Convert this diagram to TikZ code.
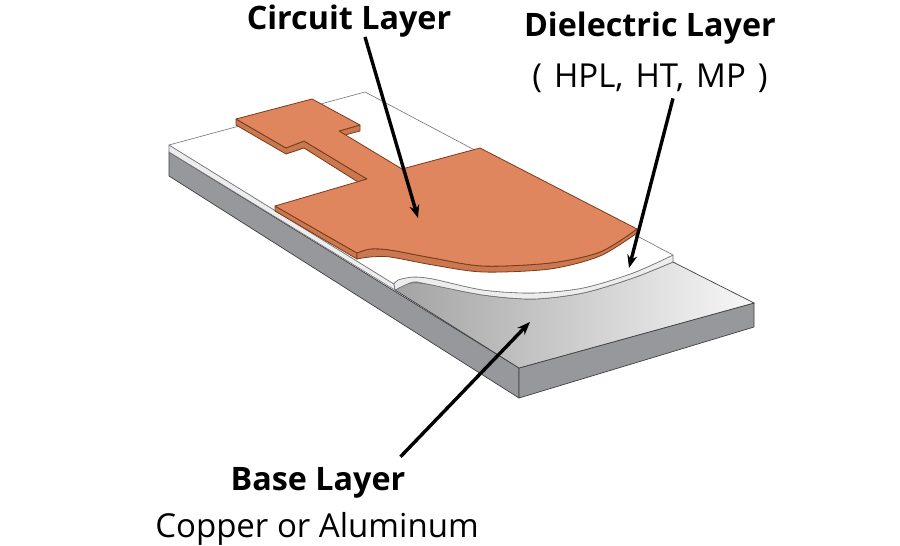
\documentclass[tikz,border=0pt]{standalone}
\usepackage{fontspec}
\usetikzlibrary{arrows.meta}
\setmainfont{Open Sans}
\definecolor{copper}{HTML}{E0865E}
\definecolor{copperside}{HTML}{C9784F}
\definecolor{copperline}{HTML}{7A3A1C}
\definecolor{sidegray}{HTML}{97989C}
\definecolor{bandgray}{HTML}{EDEDEF}
\begin{document}
\begin{tikzpicture}[
    x=1pt, y=-1pt,
    face/.style={draw=black!75, line width=0.7pt, line join=round},
    band/.style={draw=black!55, line width=0.6pt, line join=round},
    cu/.style={draw=copperline, line width=0.8pt, line join=round},
    pointer/.style={-{Stealth[length=13pt, width=10pt]}, line width=3.4pt, draw=black},
    title/.style={anchor=base, inner sep=0pt, font=\fontsize{32.3}{34}\selectfont\bfseries},
    sub/.style={anchor=base, inner sep=0pt, font=\fontsize{33}{35}\selectfont},
]
\useasboundingbox (0,0) rectangle (900,546);
% sides of the base
\fill[white] (0,0) rectangle (900,546);
\draw[face, fill=sidegray] (169,152) -- (169,176) -- (519,398) -- (519,368) -- cycle;
\draw[face, fill=sidegray] (519,368) -- (519,398) -- (754,327) -- (754,303) -- cycle;
% top of the base
\shade[left color=black!36, middle color=black!15, right color=black!3, draw=black!75, line width=0.7pt]
    (395,290) -- (519,368) -- (754,303) -- (673,262)
    -- plot[smooth] coordinates {(673,262) (633,278) (583,293) (533,299) (483,295) (427,284) (410,283) (395,290)} -- cycle;
% dielectric
\draw[band, fill=bandgray] (169,145) -- (169,152) -- (395,290) -- (394,284) -- cycle;
\draw[band, fill=bandgray] (394,284) -- (395,290)
    -- plot[smooth] coordinates {(395,290) (413,282) (427,284) (483,295) (533,299) (583,293) (633,278) (673,262)}
    -- (673,255)
    -- plot[smooth] coordinates {(673,255) (633,273) (583,288) (533,293) (483,290) (433,279) (413,277) (398,280) (394,284)} -- cycle;
\draw[band, fill=white] (169,145) -- (365,92) -- (673,255)
    -- plot[smooth] coordinates {(673,255) (633,273) (583,288) (533,293) (483,290) (433,279) (413,277) (398,280) (394,284)} -- cycle;
% copper sides
\draw[cu, fill=copperside] (236,119) -- (236,125) -- (286,154) -- (304,148) -- (358,182) -- (367,179) -- (304,141) -- (286,148) -- cycle;
\draw[cu, fill=copperside] (339,131) -- (345,135) -- (360,131) -- (360,125) -- cycle;
\draw[cu, fill=copperside] (275,206) -- (275,211) -- (357,259) -- (357,253) -- cycle;
\draw[cu, fill=copperside] (357,253)
    -- plot[smooth] coordinates {(357,259) (370,257) (390,257) (433,265) (483,272) (550,269) (600,256) (637,233)}
    -- (637,229)
    -- plot[smooth] coordinates {(637,229) (600,252) (550,263) (483,266) (433,258) (390,250) (370,249) (357,253)} -- cycle;
% copper top
\draw[cu, fill=copper] (236,119) -- (312,99) -- (360,125) -- (339,131) -- (402,169) -- (480,148) -- (637,229)
    -- plot[smooth] coordinates {(637,229) (600,252) (550,263) (483,266) (433,258) (390,250) (370,249) (357,253)}
    -- (275,206) -- (367,179) -- (304,141) -- (286,148) -- cycle;
% labels
\node[title] (circuit) at (349,29) {Circuit Layer};
\node[title] (dielectric) at (650,36) {Dielectric Layer};
\node[sub] (grades) at (650,87) {\spaceskip=12pt ( HPL, HT, MP )};
\node[title] (base) at (318,490) {Base Layer};
\node[sub] (metal) at (317,537) {Copper or Aluminum};
\coordinate (circuittip) at (418,218);
\coordinate (dielectrictip) at (629,268);
\coordinate (basetip) at (530,322);
\draw[pointer] ([xshift=16pt]circuit.south) -- (circuittip);
\draw[pointer] ([xshift=23pt, yshift=-6pt]grades.south) -- (dielectrictip);
\draw[pointer] ([xshift=-5pt, yshift=10pt]base.north east) -- (basetip);
\end{tikzpicture}
\end{document}
